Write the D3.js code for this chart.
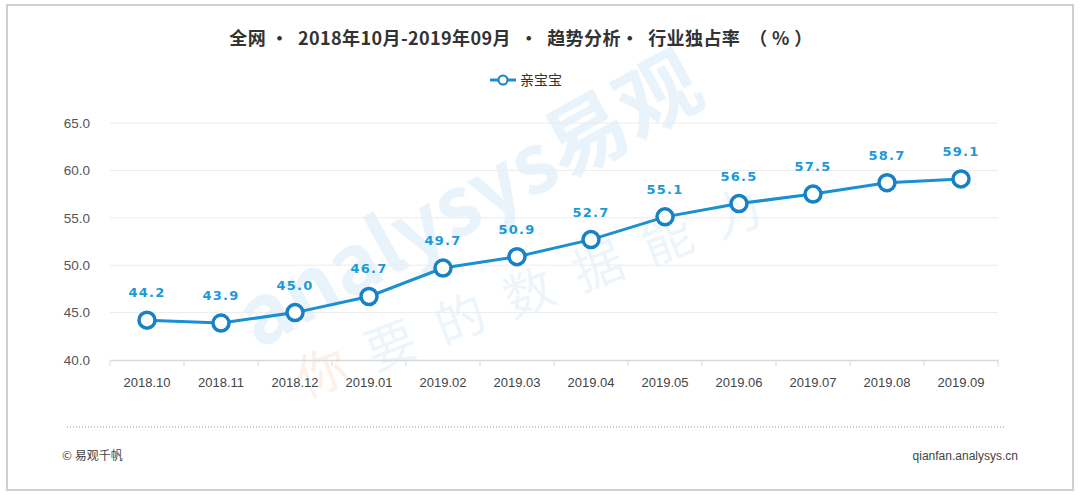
<!DOCTYPE html>
<html>
<head>
<meta charset="utf-8">
<script src="https://cdn.jsdelivr.net/npm/d3@7"></script>
<style>
  body { margin: 0; background: #fff; }
  text { font-family: "Noto Sans CJK SC", "Noto Sans", sans-serif; }
</style>
</head>
<body>
<div id="chart"></div>
<script>
// ---------------- data ----------------
const months = ["2018.10", "2018.11", "2018.12", "2019.01", "2019.02", "2019.03",
                "2019.04", "2019.05", "2019.06", "2019.07", "2019.08", "2019.09"];
const shareValues = [44.2, 43.9, 45.0, 46.7, 49.7, 50.9, 52.7, 55.1, 56.5, 57.5, 58.7, 59.1];
const yTicks = [40, 45, 50, 55, 60, 65];
const seriesName = "亲宝宝";
const titleText = "全网 ·  2018年10月-2019年09月  ·  趋势分析·  行业独占率  （ % ）";

// ---------------- layout ----------------
const width = 1080;
const height = 498;
const plot = { left: 110, right: 998, top: 123, bottom: 360 };
const blue = "#1a8fd2";

const svg = d3.select("#chart").append("svg")
    .attr("width", width)
    .attr("height", height);

// frame
svg.append("rect")
    .attr("x", 7).attr("y", 5)
    .attr("width", 1066).attr("height", 485)
    .attr("fill", "#fff")
    .attr("stroke", "#cfcfcf")
    .attr("stroke-width", 2);

// scales
const x = d3.scaleBand().domain(months).range([plot.left, plot.right]);
const y = d3.scaleLinear().domain([40, 65]).range([plot.bottom, plot.top]);

// watermark
const wm = svg.append("g").attr("pointer-events", "none");
wm.append("text")
    .attr("transform", "translate(258,350) rotate(-29)")
    .attr("font-size", 82)
    .attr("font-weight", "bold")
    .attr("fill", "#e9f3fb")
    .text("analysys易观");
const slogan = wm.append("text")
    .attr("transform", "translate(305,398) rotate(-21)")
    .attr("font-size", 50)
    .attr("letter-spacing", 24)
    .attr("fill", "#edf5fb");
slogan.append("tspan").attr("fill", "#fcf0e8").text("你");
slogan.append("tspan").text("要的数据能力");

// grid
svg.append("g")
    .selectAll("line")
    .data(yTicks.slice(1))
    .join("line")
    .attr("x1", plot.left).attr("x2", plot.right)
    .attr("y1", d => y(d)).attr("y2", d => y(d))
    .attr("stroke", "#ececec")
    .attr("stroke-width", 1);

// y axis labels
const yAxis = d3.axisLeft(y).tickValues(yTicks).tickFormat(d3.format(".1f")).tickSize(0).tickPadding(0);
const gy = svg.append("g")
    .attr("transform", "translate(90,0)")
    .call(yAxis);
gy.select(".domain").remove();
gy.selectAll("text")
    .attr("font-size", 13.5)
    .attr("fill", "#555")
    .style("font-family", "'Liberation Sans', Arial, sans-serif");

// x axis
const xAxis = d3.axisBottom(x).tickSize(0).tickPadding(18);
const gx = svg.append("g")
    .attr("transform", "translate(0," + plot.bottom + ")")
    .call(xAxis);
gx.select(".domain").attr("stroke", "#d9d9d9").attr("stroke-width", 1.5);
gx.selectAll("text")
    .attr("font-size", 13)
    .attr("fill", "#444")
    .style("font-family", "'Liberation Sans', Arial, sans-serif");
// boundary ticks
svg.append("g")
    .selectAll("line")
    .data(months.map(m => x(m)).concat([plot.right]))
    .join("line")
    .attr("x1", d => d).attr("x2", d => d)
    .attr("y1", plot.bottom).attr("y2", plot.bottom + 6)
    .attr("stroke", "#d9d9d9")
    .attr("stroke-width", 1);

// line
const line = d3.line()
    .x((d, i) => x(months[i]) + x.bandwidth() / 2)
    .y(d => y(d));
svg.append("path")
    .datum(shareValues)
    .attr("fill", "none")
    .attr("stroke", blue)
    .attr("stroke-width", 3)
    .attr("d", line);

// points
svg.append("g")
    .selectAll("circle")
    .data(shareValues)
    .join("circle")
    .attr("cx", (d, i) => x(months[i]) + x.bandwidth() / 2)
    .attr("cy", d => y(d))
    .attr("r", 8)
    .attr("fill", "#fff")
    .attr("stroke", "#1681c4")
    .attr("stroke-width", 3.5);

// value labels
svg.append("g")
    .selectAll("text")
    .data(shareValues)
    .join("text")
    .attr("x", (d, i) => x(months[i]) + x.bandwidth() / 2)
    .attr("y", d => y(d) - 23)
    .attr("text-anchor", "middle")
    .attr("font-size", 13)
    .attr("font-weight", "bold")
    .attr("letter-spacing", 1.2)
    .attr("fill", "#1a9ad8")
    .style("font-family", "'DejaVu Sans', sans-serif")
    .text(d => d.toFixed(1));

// title
svg.append("text")
    .attr("x", 521).attr("y", 45)
    .attr("text-anchor", "middle")
    .attr("font-size", 18)
    .attr("font-weight", "bold")
    .attr("letter-spacing", 0.4)
    .attr("fill", "#333")
    .attr("xml:space", "preserve")
    .style("white-space", "pre")
    .text(titleText);

// legend
const lg = svg.append("g").attr("transform", "translate(490,80)");
lg.append("line")
    .attr("x1", 0).attr("x2", 26)
    .attr("stroke", blue).attr("stroke-width", 3);
lg.append("circle")
    .attr("cx", 13).attr("r", 4.5)
    .attr("fill", "#fff").attr("stroke", "#1681c4").attr("stroke-width", 2);
lg.append("text")
    .attr("x", 30).attr("y", 5)
    .attr("font-size", 14)
    .attr("fill", "#333")
    .text(seriesName);

// footer
svg.append("line")
    .attr("x1", 67).attr("x2", 1005)
    .attr("y1", 427).attr("y2", 427)
    .attr("stroke", "#999")
    .attr("stroke-width", 1)
    .attr("stroke-dasharray", "1,2");
svg.append("text")
    .attr("x", 62).attr("y", 460)
    .attr("font-size", 12)
    .attr("fill", "#444")
    .text("©  易观千帆");
svg.append("text")
    .attr("x", 1018).attr("y", 460)
    .attr("text-anchor", "end")
    .attr("font-size", 12)
    .attr("fill", "#444")
    .style("font-family", "'Liberation Sans', Arial, sans-serif")
    .text("qianfan.analysys.cn");
</script>
</body>
</html>
